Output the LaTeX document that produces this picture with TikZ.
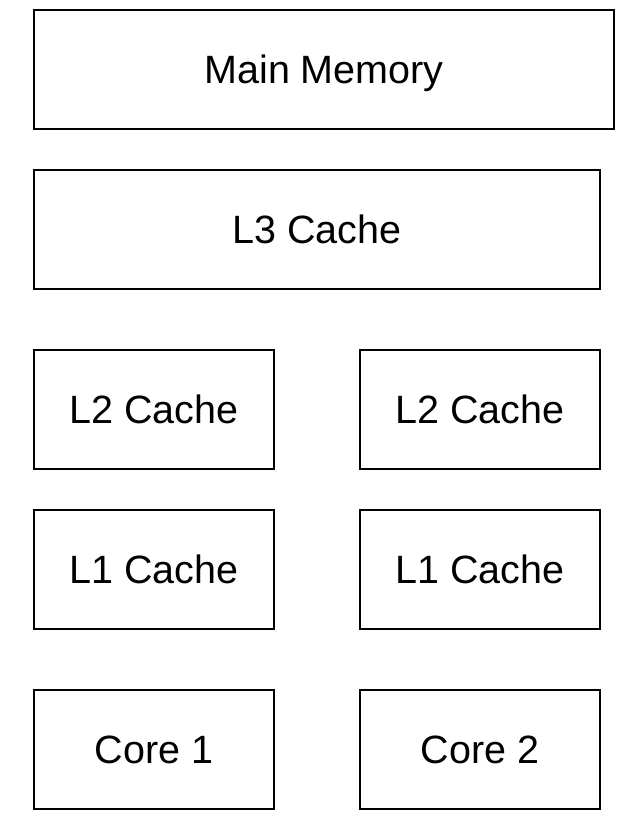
\documentclass[tikz,border=0pt]{standalone}
\usepackage{fontspec}
\setmainfont{Liberation Sans}
\begin{document}
\begin{tikzpicture}[x=1pt,y=-1pt,
  blk/.style={draw=black,line width=2pt,fill=white,inner sep=0pt,
    minimum height=119pt,text height=28.5pt,text depth=0pt,
    font=\fontsize{39.5}{45}\selectfont,text=black},
  wide/.style={blk,minimum width=#1}]
\useasboundingbox (0,0) rectangle (635,831);
\node[wide=580pt] (mm) at (324,69.5) {Main Memory};
\node[wide=566pt] (l3) at (317,229.5) {L3 Cache};
\node[wide=240pt] (l2a) at (154,409.5) {L2 Cache};
\node[wide=240pt] (l2b) at (480,409.5) {L2 Cache};
\node[wide=240pt] (l1a) at (154,569.5) {L1 Cache};
\node[wide=240pt] (l1b) at (480,569.5) {L1 Cache};
\node[wide=240pt] (c1) at (154,749.5) {Core 1};
\node[wide=240pt] (c2) at (480,749.5) {Core 2};
\end{tikzpicture}
\end{document}
